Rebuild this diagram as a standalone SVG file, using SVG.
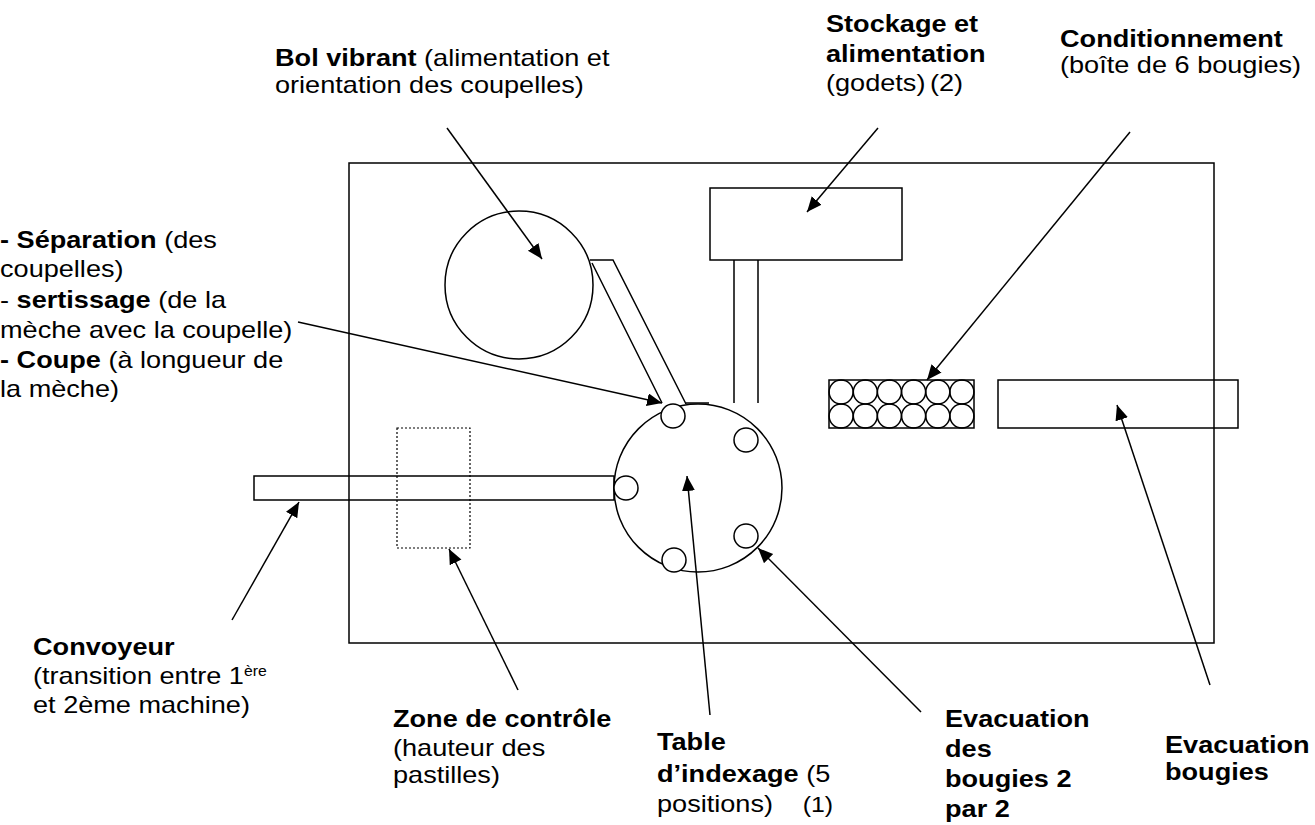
<svg xmlns="http://www.w3.org/2000/svg" width="1315" height="825" viewBox="0 0 1315 825">
<defs>
<style>
.s{fill:none;stroke:#000;stroke-width:1.5}
.w{fill:#fff;stroke:#000;stroke-width:1.5}
.c{stroke:#000;stroke-width:1.5;fill:none;marker-end:url(#ah)}
text{font-family:"Liberation Sans",Arial,sans-serif;font-size:24px;fill:#000}
.b{font-weight:bold}
</style>
<marker id="ah" markerUnits="userSpaceOnUse" markerWidth="16" markerHeight="14" refX="15" refY="6.5" orient="auto">
<path d="M0,0 L15,6.5 L0,13 z" fill="#000"/>
</marker>
</defs>
<rect width="1315" height="825" fill="#fff"/>

<g id="machine-frame"><rect class="s" x="349" y="163" width="865" height="480"/></g>

<g id="bol-vibrant">
<circle class="s" cx="519" cy="285" r="74"/>
<path class="s" d="M590,260 L613,260 L686,404 M592,263 L662,403"/>
</g>

<g id="stockage">
<rect class="s" x="710" y="188" width="192" height="72"/>
<path class="s" d="M734,260 V403 M758,260 V403"/>
</g>

<g id="conveyor">
<rect class="s" x="254" y="476" width="360" height="24"/>
</g>

<g id="zone-controle">
<rect x="397" y="428" width="73" height="120" fill="none" stroke="#000" stroke-width="1.2" stroke-dasharray="2,2"/>
</g>

<g id="table-indexage">
<circle class="s" cx="698" cy="488" r="84"/>
<path class="s" d="M686,403 H709"/>
<circle class="w" cx="673" cy="416" r="12"/>
<circle class="w" cx="746" cy="440" r="12"/>
<circle class="w" cx="626" cy="488" r="12"/>
<circle class="w" cx="746" cy="536" r="12"/>
<circle class="w" cx="674" cy="560" r="12"/>
</g>

<g id="conditionnement">
<rect class="s" x="829" y="380" width="145" height="48"/>
<g class="s">
<circle cx="841.1" cy="392" r="12"/><circle cx="865.3" cy="392" r="12"/><circle cx="889.4" cy="392" r="12"/><circle cx="913.6" cy="392" r="12"/><circle cx="937.8" cy="392" r="12"/><circle cx="961.9" cy="392" r="12"/>
<circle cx="841.1" cy="416" r="12"/><circle cx="865.3" cy="416" r="12"/><circle cx="889.4" cy="416" r="12"/><circle cx="913.6" cy="416" r="12"/><circle cx="937.8" cy="416" r="12"/><circle cx="961.9" cy="416" r="12"/>
</g>
</g>

<g id="evacuation">
<rect class="s" x="998" y="380" width="240" height="48"/>
</g>

<g id="connectors">
<line class="c" x1="447" y1="128" x2="542" y2="259"/>
<line class="c" x1="878" y1="128" x2="807" y2="212"/>
<line class="c" x1="1130" y1="132" x2="927" y2="380"/>
<line class="c" x1="298" y1="322" x2="662" y2="403"/>
<line class="c" x1="232" y1="620" x2="299" y2="502"/>
<line class="c" x1="518" y1="690" x2="449" y2="549"/>
<line class="c" x1="710" y1="715" x2="687" y2="476"/>
<line class="c" x1="921" y1="712" x2="758" y2="548"/>
<line class="c" x1="1210" y1="685" x2="1117" y2="405"/>
</g>

<g id="label-bol" transform="translate(275,0) scale(1.13,1)">
<text x="0" y="66"><tspan class="b">Bol vibrant</tspan> (alimentation et</text>
<text x="0" y="93">orientation des coupelles)</text>
</g>

<g id="label-stockage" transform="translate(826,0) scale(1.13,1)">
<text x="0" y="32" class="b">Stockage et</text>
<text x="0" y="62" class="b">alimentation</text>
<text x="0" y="91">(godets)<tspan x="92">(2)</tspan></text>
</g>

<g id="label-conditionnement" transform="translate(1060,0) scale(1.13,1)">
<text x="0" y="47" class="b">Conditionnement</text>
<text x="0" y="73">(boîte de 6 bougies)</text>
</g>

<g id="label-separation" transform="translate(0,0) scale(1.13,1)">
<text x="0" y="248"><tspan class="b">- Séparation</tspan> (des</text>
<text x="0" y="277">coupelles)</text>
<text x="0" y="308">- <tspan class="b">sertissage</tspan> (de la</text>
<text x="0" y="338">mèche avec la coupelle)</text>
<text x="0" y="368"><tspan class="b">- Coupe</tspan> (à longueur de</text>
<text x="0" y="397">la mèche)</text>
</g>

<g id="label-convoyeur" transform="translate(33,0) scale(1.13,1)">
<text x="0" y="655" class="b">Convoyeur</text>
<text x="0" y="684">(transition entre 1<tspan font-size="14" dy="-8">ère</tspan></text>
<text x="0" y="713">et 2ème machine)</text>
</g>

<g id="label-zone" transform="translate(393,0) scale(1.13,1)">
<text x="0" y="727" class="b">Zone de contrôle</text>
<text x="0" y="756">(hauteur des</text>
<text x="0" y="783">pastilles)</text>
</g>

<g id="label-table" transform="translate(657,0) scale(1.13,1)">
<text x="0" y="750" class="b">Table</text>
<text x="0" y="782"><tspan class="b">d’indexage</tspan> (5</text>
<text x="0" y="812">positions)<tspan x="129" font-size="22">(1)</tspan></text>
</g>

<g id="label-evac2" transform="translate(945,0) scale(1.13,1)">
<text x="0" y="727" class="b">Evacuation</text>
<text x="0" y="757" class="b">des</text>
<text x="0" y="787" class="b">bougies 2</text>
<text x="0" y="817" class="b">par 2</text>
</g>

<g id="label-evac" transform="translate(1165,0) scale(1.13,1)">
<text x="0" y="753" class="b">Evacuation</text>
<text x="0" y="780" class="b">bougies</text>
</g>
</svg>
